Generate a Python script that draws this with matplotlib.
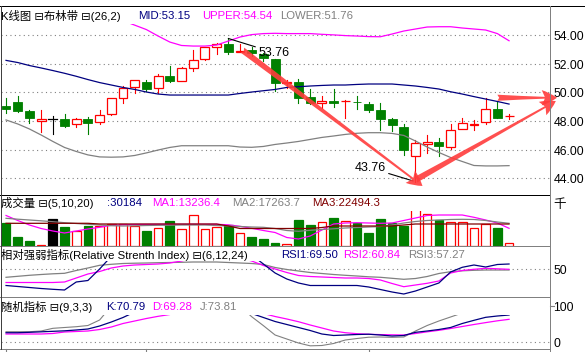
import numpy as np
import matplotlib
matplotlib.use('Agg')
import matplotlib.pyplot as plt
from matplotlib.patches import Rectangle
from matplotlib.lines import Line2D

plt.rcParams['font.family'] = ['Liberation Sans', 'Noto Sans CJK SC', 'DejaVu Sans']

# ---- daily candles ----
opens = [49.05, 49.32, 48.70, 47.98, 48.12, 48.12, 47.77, 48.12, 47.91, 48.47,
         49.62, 50.35, 50.72, 50.28, 51.12, 50.81, 51.72, 52.35, 53.18, 53.37,
         52.84, 52.95, 52.70, 52.32, 50.65, 50.70, 49.67, 49.25, 49.42, 49.37,
         49.31, 49.18, 48.77, 48.14, 47.58, 45.58, 46.42, 46.51, 46.21, 47.42,
         47.72, 47.91, 48.84, 48.32]
closes = [48.81, 48.72, 48.23, 48.14, 48.12, 47.67, 48.12, 47.88, 48.40, 49.58,
          50.28, 50.84, 50.25, 51.12, 50.81, 51.68, 52.23, 53.14, 53.35, 52.81,
          52.88, 52.76, 52.42, 50.63, 50.69, 49.62, 49.23, 49.42, 49.25, 49.41,
          49.29, 48.77, 48.12, 47.74, 45.95, 46.44, 46.50, 46.27, 47.35, 47.84,
          47.76, 48.84, 48.23, 48.36]
highs = [49.60, 49.74, 48.77, 48.77, 48.35, 48.49, 48.21, 48.26, 48.77, 49.62,
         50.44, 50.84, 50.86, 51.28, 51.84, 51.79, 52.95, 53.16, 53.42, 53.76,
         53.37, 53.14, 52.78, 52.32, 50.86, 50.91, 50.21, 49.76, 50.21, 49.46,
         49.74, 49.35, 49.23, 48.23, 47.77, 46.67, 47.00, 46.81, 47.77, 48.19,
         48.07, 49.62, 49.32, 48.49]
lows = [48.56, 48.61, 47.88, 47.25, 47.07, 47.56, 47.60, 47.09, 47.81, 48.45,
        49.28, 49.93, 50.09, 49.97, 50.74, 50.81, 51.51, 52.25, 52.67, 52.67,
        52.84, 52.55, 52.18, 50.11, 50.28, 49.23, 49.18, 48.93, 49.00, 48.23,
        48.84, 48.63, 47.39, 47.32, 45.65, 43.76, 45.79, 45.58, 46.02, 47.42,
        47.37, 47.81, 48.23, 48.12]

# ---- bollinger (26,2) ----
nan = np.nan
boll_upper = [nan, nan, nan, nan, nan, nan, nan, nan, nan, 55.30,
              55.00, 54.69, 54.38, 53.93, 53.51, 53.27, 53.23, 53.23, 53.30, 53.58,
              53.86, 54.03, 54.10, 54.12, 54.10, 54.10, 54.10, 54.05, 54.01, 53.96,
              53.93, 53.89, 53.88, 54.07, 54.28, 54.42, 54.56, 54.58, 54.58, 54.49,
              54.42, 54.35, 54.10, 53.60]
boll_mid = [52.23, 52.08, 51.87, 51.70, 51.52, 51.33, 51.12, 50.89, 50.68, 50.51,
            50.34, 50.20, 50.02, 49.88, 49.81, 49.81, 49.81, 49.81, 49.81, 49.81,
            49.92, 50.02, 50.11, 50.20, 50.34, 50.39, 50.44, 50.48, 50.51, 50.51,
            50.55, 50.58, 50.58, 50.58, 50.51, 50.44, 50.34, 50.23, 50.04, 49.88,
            49.70, 49.53, 49.36, 49.18]
boll_lower = [48.07, 47.79, 47.44, 47.02, 46.57, 46.15, 45.87, 45.63, 45.49, 45.47,
              45.49, 45.59, 45.77, 45.97, 46.15, 46.27, 46.27, 46.27, 46.27, 46.27,
              46.18, 46.16, 46.22, 46.36, 46.46, 46.57, 46.71, 46.85, 46.95, 47.06,
              47.14, 47.18, 47.18, 47.13, 46.99, 46.60, 46.18, 45.80, 45.45, 45.17,
              44.89, 44.86, 44.86, 44.88]

# ---- volume and its moving averages ----
volume = [23300, 9300, 5000, 800, 26700, 19300, 15000, 20300, 20300, 21700,
          21700, 20300, 15300, 18300, 25000, 17000, 31000, 17000, 18700, 20700,
          12700, 9300, 7000, 3300, 2000, 26000, 21000, 23700, 28000, 25300,
          23300, 13300, 27000, 22700, 20300, 40000, 31700, 26000, 24300, 23700,
          17700, 22000, 18300, 3300]
vol_ma1 = [30500, 25500, 21000, 17500, 15000, 13000, 15000, 17000, 18700, 20700,
           21200, 21500, 21600, 21700, 21700, 21700, 21700, 21700, 21700, 21200,
           19700, 17700, 15500, 13500, 8500, 7000, 10000, 16000, 22000, 23000,
           23300, 23000, 22700, 23000, 25500, 28000, 30500, 31000, 31000, 31000,
           28700, 26000, 23000, 17700]
vol_ma2 = [27700, 26800, 26000, 25200, 24300, 23300, 22500, 21700, 21000, 20300,
           20000, 20200, 20500, 20700, 20800, 21000, 21000, 21000, 20500, 20000,
           19500, 19000, 18700, 17500, 15500, 14700, 15700, 16500, 17200, 18000,
           18500, 19000, 19500, 21000, 23000, 24500, 25500, 26000, 26500, 26700,
           26500, 25500, 24000, 22700]
vol_ma3 = [22700, 22700, 22700, 22700, 22700, 22700, 22700, 22700, 22000, 22000,
           22000, 22000, 22000, 22000, 22000, 22000, 22000, 22000, 22000, 20000,
           17500, 17500, 17500, 17500, 17500, 17500, 17500, 18500, 20000, 20000,
           20000, 20000, 20000, 20000, 21000, 22000, 22000, 22000, 22000, 22000,
           22000, 22000, 22000, 22000]

# ---- RSI (6,12,24) ----
rsi1 = [33.8, 32.8, 31.8, 30.8, 30.0, 29.3, 37.3, 38.8, 50.3, 63.0,
        65.0, 65.0, 65.0, 65.0, 65.0, 65.0, 65.0, 65.0, 65.0, 65.0,
        65.0, 64.3, 55.3, 46.3, 40.3, 36.3, 33.8, 33.8, 33.8, 33.8,
        33.8, 32.3, 29.8, 27.3, 25.3, 28.3, 32.3, 36.3, 47.3, 52.0,
        54.3, 52.3, 54.8, 55.3]
rsi2 = [36.8, 36.8, 36.8, 36.8, 36.8, 37.3, 41.3, 45.3, 47.8, 51.3,
        53.3, 54.3, 54.8, 55.3, 56.3, 58.3, 61.3, 61.3, 61.3, 61.3,
        61.3, 58.3, 53.8, 50.3, 46.8, 43.8, 42.8, 42.3, 41.8, 41.3,
        41.3, 40.8, 39.3, 35.8, 32.6, 34.3, 36.0, 38.3, 46.3, 48.8,
        50.0, 51.0, 50.5, 50.0]
rsi3 = [42.0, 43.0, 44.0, 44.8, 45.5, 46.0, 48.8, 51.3, 54.0, 55.0,
        55.8, 56.1, 56.3, 56.6, 56.8, 57.0, 57.3, 57.3, 57.3, 56.8,
        56.3, 55.8, 54.8, 51.8, 49.8, 48.3, 46.8, 45.8, 44.8, 44.0,
        43.3, 42.5, 42.0, 41.0, 40.0, 40.8, 42.8, 45.8, 47.6, 48.5,
        49.0, 49.3, 49.3, 49.3]

# ---- KDJ (9,3,3) ----
kdj_k = [25.2, 25.2, 26.3, 27.7, 29.1, 30.5, 32.8, 35.6, 44.0, 55.2,
         67.8, 83.2, 92, 92, 92, 92, 92, 92, 92, 92,
         92, 79.0, 67.8, 56.6, 48.2, 39.8, 31.4, 21.6, 17.4, 18.8,
         20.2, 21.0, 18.8, 16.0, 17.4, 26.3, 30.0, 34.2, 39.8, 51.0,
         59.9, 68.3, 72.0, 74.8]
kdj_d = [21.6, 21.6, 21.6, 21.6, 23.0, 27.2, 28.6, 30.0, 34.2, 41.2,
         51.0, 58.0, 65.0, 71.1, 76.2, 88, 88, 88, 88, 88,
         88, 88, 79.0, 70.6, 63.6, 56.0, 46.8, 38.4, 30.0, 25.2,
         22.4, 20.7, 19.9, 19.3, 18.8, 23.0, 27.7, 31.9, 37.0, 42.6,
         48.2, 53.5, 58.5, 62.7]
kdj_j = [28.0, 28.0, 28.0, 30.0, 37.5, 39.8, 42.0, 45.4, 60.8, 100,
         100, 100, 100, 100, 100, 100, 100, 100, 100, 100,
         100, 70.0, 45.0, 18.8, 7.6, -3.6, -11.5, -10.6, -5.0, 4.8,
         9.0, 12.6, 13.2, 12.3, 13.2, 30.0, 45.4, 58.0, 69.2, 80.4,
         95, 95, 95, 95]

price_ticks = [54, 52, 50, 48, 46, 44]
hi_label, lo_label = '53.76', '43.76'

RED, GREEN, NAVY, MAG, GRAY, MAROON = '#ff0000', '#008000', '#000080', '#ff00ff', '#808080', '#800000'
W, H = 585, 352
fig = plt.figure(figsize=(W / 100, H / 100), dpi=100)
idx = np.arange(len(opens))
HEAD_FS = 8.2


def px_ax(top, bottom):
    ax = fig.add_axes([1 / W, 1 - bottom / H, 549 / W, (bottom - top) / H])
    ax.set_axis_off()
    ax.set_xlim(-0.43, 46.5)
    return ax


def ftext(x, y, s, color='black', size=HEAD_FS):
    fig.text(x / W, 1 - y / H, s, color=color, fontsize=size, va='center', ha='left')


def hline(y, x0, x1, color, lw=1.0):
    fig.add_artist(Line2D([x0 / W, x1 / W], [1 - y / H, 1 - y / H], color=color, lw=lw * 0.72))


def vline(x, y0, y1, color, lw=1.0):
    fig.add_artist(Line2D([x / W, x / W], [1 - y0 / H, 1 - y1 / H], color=color, lw=lw * 0.72))


def dotted(ax, v):
    ax.axhline(v, color=GRAY, lw=0.8, ls=(0, (1, 3)), zorder=0)


def right_label(ax, v, s, tick=False):
    ax.annotate(s, xy=(1, v), xycoords=('axes fraction', 'data'), xytext=(2.5, -1.5),
                textcoords='offset points', va='center', ha='left', fontsize=8.8,
                annotation_clip=False)
    if tick:
        ax.plot([46.5, 46.8], [v, v], color=GRAY, lw=0.8, clip_on=False)


# ---------- main K-line panel ----------
ax = px_ax(24, 195)
ax.set_ylim(42.83, 54.77)
for v in price_ticks:
    dotted(ax, v)
    right_label(ax, v, f'{v:.2f}')

bw = 0.76
for i, o, c, h, l in zip(idx, opens, closes, highs, lows):
    top, bot = max(o, c), min(o, c)
    if c > o:
        ax.plot([i, i], [top, h], color=RED, lw=0.8, zorder=2)
        ax.plot([i, i], [l, bot], color=RED, lw=0.8, zorder=2)
        ax.add_patch(Rectangle((i - bw / 2, bot), bw, top - bot, facecolor='white',
                               edgecolor=RED, lw=0.9, zorder=3))
    elif c < o:
        ax.plot([i, i], [l, h], color=GREEN, lw=0.8, zorder=2)
        ax.add_patch(Rectangle((i - bw / 2, bot), bw, top - bot, facecolor=GREEN,
                               edgecolor=GREEN, lw=0.6, zorder=3))
    else:
        ax.plot([i, i], [l, h], color='black', lw=0.8, zorder=2)
        ax.plot([i - bw / 2, i + bw / 2], [o, o], color='black', lw=0.9, zorder=3)

ax.plot(idx, boll_upper, color=MAG, lw=0.9, zorder=4)
ax.plot(idx, boll_mid, color=NAVY, lw=0.9, zorder=4)
ax.plot(idx, boll_lower, color=GRAY, lw=0.9, zorder=4)

hi_i = int(np.argmax(highs))
lo_i = int(np.argmin(lows))
ax.annotate(hi_label, xy=(hi_i, highs[hi_i]), xytext=(hi_i + 2.55, 52.78), fontsize=9,
            va='center', ha='left', zorder=6,
            arrowprops=dict(arrowstyle='-', color='black', lw=0.8, shrinkA=0, shrinkB=0))
ax.annotate(lo_label, xy=(lo_i - 0.2, lows[lo_i] + 0.05), xytext=(lo_i - 5.2, 44.72),
            fontsize=9, va='center', ha='left', zorder=6,
            arrowprops=dict(arrowstyle='-', color='black', lw=0.8, shrinkA=0, shrinkB=0))

arrow_style = 'fancy,head_length=0.55,head_width=0.55,tail_width=0.22'
for tail, tip in [((20.2, 52.95), (35.6, 43.46)),
                  ((35.0, 43.88), (47.0, 49.39)),
                  ((42.0, 49.62), (47.1, 49.62))]:
    ax.annotate('', xy=tip, xytext=tail, annotation_clip=False, zorder=7,
                arrowprops=dict(arrowstyle=arrow_style, mutation_scale=20,
                                color='#ff3c3c', alpha=0.9, lw=0, shrinkA=0, shrinkB=0))

# ---------- volume panel ----------
axv = px_ax(211, 246)
axv.set_ylim(0, 35000)
faces, edges = [], []
for o, c in zip(opens, closes):
    if c > o:
        faces.append('white'); edges.append(RED)
    elif c < o:
        faces.append(GREEN); edges.append(GREEN)
    else:
        faces.append('black'); edges.append('black')
axv.bar(idx, volume, width=0.74, color=faces, edgecolor=edges, lw=0.9, zorder=2)
axv.plot(idx, vol_ma1, color=MAG, lw=0.9, zorder=3)
axv.plot(idx, vol_ma2, color=GRAY, lw=0.9, zorder=3)
axv.plot(idx, vol_ma3, color=MAROON, lw=0.9, zorder=3)

# ---------- RSI panel ----------
axr = px_ax(261, 297)
axr.set_ylim(22.3, 58.3)
dotted(axr, 50)
right_label(axr, 50, '50')
axr.plot(idx, rsi3, color=GRAY, lw=0.9)
axr.plot(idx, rsi2, color=MAG, lw=0.9)
axr.plot(idx, rsi1, color=NAVY, lw=0.9)

# ---------- KDJ panel ----------
axk = px_ax(314.5, 349)
axk.set_ylim(-20.4, 76.2)
dotted(axk, 0)
right_label(axk, 0, '0')
right_label(axk, 100, '100', tick=True)
axk.plot(idx, kdj_j, color=GRAY, lw=0.8)
axk.plot(idx, kdj_d, color=MAG, lw=0.9)
axk.plot(idx, kdj_k, color=NAVY, lw=0.9)
for i in [0, 12, 31]:
    axk.plot([i, i], [-20.4, -29], color=GRAY, lw=0.8, clip_on=False)

# ---------- frame ----------
hline(6, 0, 585, 'black')
hline(195, 0, 550, 'black')
hline(246, 0, 550, GRAY)
hline(297, 0, 550, GRAY)
hline(349, 0, 550, GRAY)
vline(550, 6, 352, GRAY)
vline(0.7, 6, 349, '#404040')

# ---------- headers ----------
ftext(1, 16, 'K线图 ⊟布林带 ⊟(26,2)')
ftext(138, 16, 'MID:53.15', NAVY)
ftext(202, 16, 'UPPER:54.54', MAG)
ftext(280, 16, 'LOWER:51.76', GRAY)

ftext(1, 203, '成交量 ⊟(5,10,20)')
ftext(107, 203, ':30184', NAVY)
ftext(152, 203, 'MA1:13236.4', MAG)
ftext(232, 203, 'MA2:17263.7', GRAY)
ftext(312, 203, 'MA3:22494.3', MAROON)
ftext(553, 205, '千', size=9)

ftext(1, 255, '相对强弱指标(Relative Strenth Index) ⊟(6,12,24)')
ftext(281, 255, 'RSI1:69.50', NAVY)
ftext(343, 255, 'RSI2:60.84', MAG)
ftext(408, 255, 'RSI3:57.27', GRAY)

ftext(1, 307, '随机指标 ⊟(9,3,3)')
ftext(106, 307, 'K:70.79', NAVY)
ftext(152, 307, 'D:69.28', MAG)
ftext(200, 307, 'J:73.81', GRAY)

fig.savefig('out.png', dpi=100)
